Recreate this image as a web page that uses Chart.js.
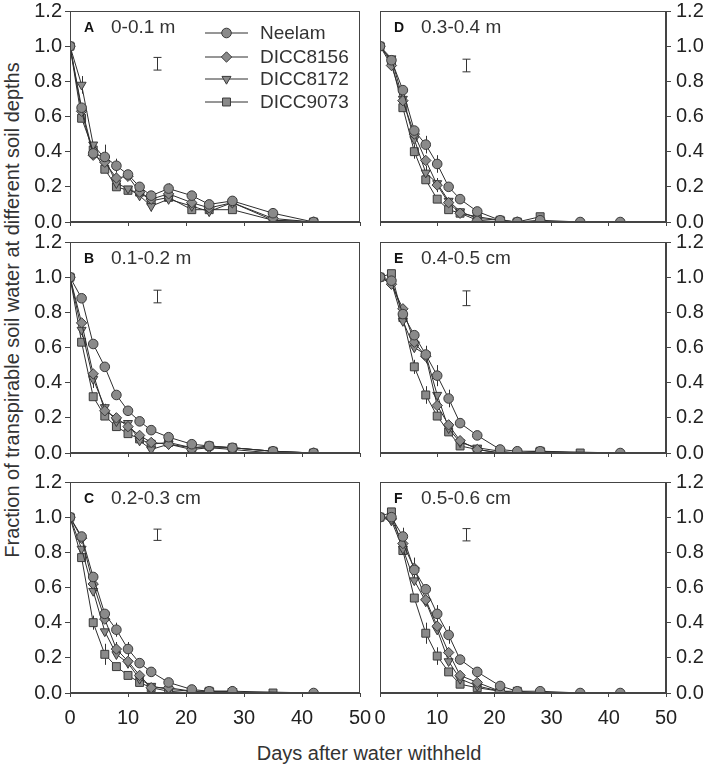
<!DOCTYPE html>
<html>
<head>
<meta charset="utf-8">
<script src="https://cdn.jsdelivr.net/npm/chart.js@4.4.0/dist/chart.umd.min.js"></script>
<style>
  body { margin: 0; background: #fff; width: 714px; height: 765px; position: relative; overflow: hidden;
         font-family: Arial, "Liberation Sans", sans-serif; }
  #yTitle { position: absolute; left: -288px; top: 298px; width: 600px; height: 24px; line-height: 24px;
            text-align: center; font-size: 20px; color: #333; transform: rotate(-90deg); white-space: nowrap; }
  #xTitle { position: absolute; left: 169px; top: 741px; width: 400px; height: 24px; line-height: 24px;
            text-align: center; font-size: 20px; color: #333; white-space: nowrap; }
</style>
</head>
<body>
<div id="yTitle">Fraction of transpirable soil water at different soil depths</div>
<div id="xTitle">Days after water withheld</div>
<script>
// days after water withheld (x values shared by every series)
const days = [0, 2, 4, 6, 8, 10, 12, 14, 17, 21, 24, 28, 35, 42];
const seriesNames = ["Neelam", "DICC8156", "DICC8172", "DICC9073"];
const panelLetters = ["A", "B", "C", "D", "E", "F"];
const depthLabels = ["0-0.1 m", "0.1-0.2 m", "0.2-0.3 cm", "0.3-0.4 m", "0.4-0.5 cm", "0.5-0.6 cm"];

// A: 0-0.1 m
const neelamA   = [1.0, 0.65, 0.39, 0.37, 0.32, 0.27, 0.20, 0.15, 0.19, 0.15, 0.10, 0.12, 0.05, 0.0];
const dicc8156A = [1.0, 0.63, 0.38, 0.34, 0.25, 0.26, 0.17, 0.13, 0.16, 0.11, 0.08, 0.11, 0.02, 0.0];
const dicc8172A = [1.0, 0.78, 0.44, 0.36, 0.22, 0.19, 0.15, 0.09, 0.13, 0.09, 0.06, 0.11, 0.01, 0.0];
const dicc9073A = [1.0, 0.59, 0.41, 0.30, 0.20, 0.18, 0.17, 0.12, 0.14, 0.07, 0.07, 0.07, 0.01, 0.0];
// B: 0.1-0.2 m
const neelamB   = [1.0, 0.88, 0.62, 0.49, 0.33, 0.24, 0.18, 0.13, 0.09, 0.05, 0.04, 0.03, 0.01, 0.0];
const dicc8156B = [1.0, 0.74, 0.45, 0.24, 0.20, 0.15, 0.10, 0.06, 0.05, 0.02, 0.03, 0.02, 0.0, 0.0];
const dicc8172B = [1.0, 0.70, 0.42, 0.26, 0.18, 0.17, 0.07, 0.02, 0.05, 0.03, 0.03, 0.03, 0.01, 0.0];
const dicc9073B = [1.0, 0.63, 0.32, 0.21, 0.15, 0.11, 0.08, 0.05, 0.06, 0.03, 0.04, 0.03, 0.01, 0.0];
// C: 0.2-0.3 cm
const neelamC   = [1.0, 0.89, 0.66, 0.45, 0.36, 0.25, 0.17, 0.12, 0.06, 0.02, 0.01, 0.01, null, 0.0];
const dicc8156C = [1.0, 0.88, 0.62, 0.42, 0.25, 0.18, 0.10, 0.03, 0.03, 0.01, 0.0, 0.01, null, null];
const dicc8172C = [1.0, 0.82, 0.58, 0.35, 0.22, 0.17, 0.08, 0.04, 0.02, 0.01, 0.01, 0.01, null, null];
const dicc9073C = [1.0, 0.77, 0.40, 0.22, 0.15, 0.10, 0.06, 0.03, 0.01, 0.0, 0.01, 0.0, 0.0, null];
// D: 0.3-0.4 m
const neelamD   = [1.0, 0.92, 0.75, 0.52, 0.44, 0.33, 0.20, 0.13, 0.06, 0.01, 0.0, 0.01, 0.0, 0.0];
const dicc8156D = [1.0, 0.89, 0.69, 0.50, 0.35, 0.21, 0.11, 0.05, 0.01, 0.0, 0.0, 0.0, null, null];
const dicc8172D = [1.0, 0.93, 0.70, 0.47, 0.28, 0.22, 0.12, 0.06, 0.02, 0.01, 0.0, 0.0, null, null];
const dicc9073D = [1.0, 0.91, 0.65, 0.40, 0.24, 0.13, 0.07, 0.05, 0.03, 0.01, 0.0, 0.03, null, null];
// E: 0.4-0.5 cm
const neelamE   = [1.0, 0.98, 0.79, 0.67, 0.56, 0.44, 0.31, 0.17, 0.10, 0.02, 0.01, 0.01, null, 0.0];
const dicc8156E = [1.0, 0.96, 0.82, 0.63, 0.55, 0.27, 0.16, 0.07, 0.02, 0.0, 0.0, 0.0, null, null];
const dicc8172E = [1.0, 0.97, 0.75, 0.60, 0.56, 0.33, 0.14, 0.06, 0.03, 0.01, 0.0, 0.01, null, null];
const dicc9073E = [1.0, 1.02, 0.77, 0.49, 0.33, 0.21, 0.12, 0.04, 0.02, 0.0, 0.0, 0.01, 0.0, null];
// F: 0.5-0.6 cm
const neelamF   = [1.0, 1.0, 0.89, 0.70, 0.59, 0.45, 0.33, 0.19, 0.12, 0.04, 0.01, 0.01, 0.0, 0.0];
const dicc8156F = [1.0, 0.99, 0.85, 0.71, 0.53, 0.38, 0.23, 0.10, 0.06, 0.01, 0.0, 0.0, null, null];
const dicc8172F = [1.0, 0.98, 0.82, 0.64, 0.52, 0.36, 0.18, 0.08, 0.04, 0.01, 0.0, 0.0, null, null];
const dicc9073F = [1.0, 1.03, 0.81, 0.54, 0.34, 0.21, 0.12, 0.05, 0.03, 0.01, 0.01, 0.0, null, null];

// visible error bars per panel: [series index, day index, half length]
const errA = [[2, 1, 0.05], [2, 3, 0.08], [0, 4, 0.04], [0, 8, 0.03], [2, 7, 0.03]];
const errB = [[2, 2, 0.05], [1, 3, 0.04], [2, 1, 0.04]];
const errC = [[3, 2, 0.04], [3, 3, 0.06], [0, 4, 0.04], [0, 5, 0.04], [1, 4, 0.04]];
const errD = [[0, 4, 0.05], [0, 5, 0.05], [3, 3, 0.04], [2, 4, 0.04], [1, 5, 0.04]];
const errE = [[2, 4, 0.05], [0, 5, 0.06], [0, 6, 0.05], [3, 3, 0.04], [3, 4, 0.05], [1, 5, 0.05]];
const errF = [[3, 4, 0.06], [3, 5, 0.05], [0, 2, 0.05], [1, 3, 0.06], [0, 6, 0.05], [0, 5, 0.05]];

// LSD bar in each panel (drawn at day 15)
const lsdDay = 15;
const lsdCenter = [0.9, 0.89, 0.9, 0.89, 0.88, 0.9];
const lsdHalf = [0.036, 0.036, 0.032, 0.036, 0.042, 0.035];

const panelSeries = [
  [neelamA, dicc8156A, dicc8172A, dicc9073A],
  [neelamB, dicc8156B, dicc8172B, dicc9073B],
  [neelamC, dicc8156C, dicc8172C, dicc9073C],
  [neelamD, dicc8156D, dicc8172D, dicc9073D],
  [neelamE, dicc8156E, dicc8172E, dicc9073E],
  [neelamF, dicc8156F, dicc8172F, dicc9073F]
];
const panelErrors = [errA, errB, errC, errD, errE, errF];

const markers = [
  { pointStyle: "circle", radius: 4.8, rotation: 0 },
  { pointStyle: "rectRot", radius: 5.2, rotation: 0 },
  { pointStyle: "triangle", radius: 5.2, rotation: 180 },
  { pointStyle: "rect", radius: 5.6, rotation: 0 }
];
const markerFill = "#8a8a8a";
const markerEdge = "#3a3a3a";
const lineColor = "#2e2e2e";
const axisColor = "#444";
const textColor = "#222";
const tickFont = { family: "Arial, 'Liberation Sans', sans-serif", size: 20 };

const areaTops = [11, 242, 482];
const areaHeight = 211;

/**
 * error bars, drawn under the markers
 */
function errorPlugin(idx) {
  return {
    id: "err" + idx,
    beforeDatasetsDraw(chart) {
      const ctx = chart.ctx;
      const xs = chart.scales.x;
      const ys = chart.scales.y;
      ctx.save();
      ctx.strokeStyle = "#333";
      ctx.lineWidth = 1;
      ctx.beginPath();
      panelErrors[idx].forEach(([s, k, h]) => {
        const v = panelSeries[idx][s][k];
        const x = Math.round(xs.getPixelForValue(days[k])) + 0.5;
        ctx.moveTo(x, ys.getPixelForValue(v + h));
        ctx.lineTo(x, ys.getPixelForValue(Math.max(0, v - h)));
      });
      ctx.stroke();
      ctx.restore();
    }
  };
}

/**
 * frame, panel label, LSD bar and (panel A only) the legend
 */
function decorPlugin(idx, showLegend) {
  return {
    id: "decor" + idx,
    afterDraw(chart) {
      const ctx = chart.ctx;
      const a = chart.chartArea;
      const xs = chart.scales.x;
      const ys = chart.scales.y;
      ctx.save();
      // box
      ctx.strokeStyle = axisColor;
      ctx.lineWidth = 1;
      ctx.strokeRect(Math.round(a.left) + 0.5, Math.round(a.top) + 0.5,
        Math.round(a.right - a.left) - 1, Math.round(a.bottom - a.top) - 1);

      // LSD bar
      const lx = Math.round(xs.getPixelForValue(lsdDay)) + 0.5;
      const y1 = ys.getPixelForValue(lsdCenter[idx] + lsdHalf[idx]);
      const y2 = ys.getPixelForValue(lsdCenter[idx] - lsdHalf[idx]);
      ctx.strokeStyle = "#333";
      ctx.beginPath();
      ctx.moveTo(lx, y1); ctx.lineTo(lx, y2);
      ctx.moveTo(lx - 4, y1); ctx.lineTo(lx + 4, y1);
      ctx.moveTo(lx - 4, y2); ctx.lineTo(lx + 4, y2);
      ctx.stroke();

      // panel labels
      ctx.textBaseline = "middle";
      ctx.textAlign = "left";
      ctx.fillStyle = "#111";
      ctx.font = "bold 14px Arial, 'Liberation Sans', sans-serif";
      ctx.fillText(panelLetters[idx], a.left + 14, a.top + 17);
      ctx.fillStyle = "#333";
      ctx.font = "19px Arial, 'Liberation Sans', sans-serif";
      ctx.fillText(depthLabels[idx], a.left + 41, a.top + 17);

      if (showLegend) {
        ctx.font = "19px Arial, 'Liberation Sans', sans-serif";
        const rowY = [22, 46, 68, 91];
        for (let i = 0; i < seriesNames.length; i++) {
          const y = a.top + rowY[i];
          ctx.strokeStyle = lineColor;
          ctx.beginPath();
          ctx.moveTo(a.left + 135, y); ctx.lineTo(a.left + 178, y);
          ctx.stroke();
          ctx.fillStyle = markerFill;
          ctx.strokeStyle = markerEdge;
          if (Chart.helpers && Chart.helpers.drawPoint) {
            Chart.helpers.drawPoint(ctx, {
              pointStyle: markers[i].pointStyle, radius: markers[i].radius,
              rotation: markers[i].rotation, borderWidth: 1
            }, a.left + 156.5, y);
          }
          ctx.fillStyle = "#333";
          ctx.fillText(seriesNames[i], a.left + 190, y + 1);
        }
      }
      ctx.restore();
    }
  };
}

function makePanel(idx) {
  const col = idx < 3 ? 0 : 1;
  const row = idx % 3;
  const bottomRow = row === 2;
  const xh = bottomRow ? 44 : 8;
  const left = col === 0 ? 20 : 366;
  const width = col === 0 ? 354 : 348;
  const top = areaTops[row] - 10;
  const height = 10 + areaHeight + xh;

  const canvas = document.createElement("canvas");
  canvas.width = width;
  canvas.height = height;
  canvas.style.cssText = "position:absolute;left:" + left + "px;top:" + top + "px;width:" +
    width + "px;height:" + height + "px";
  document.body.appendChild(canvas);

  const datasets = panelSeries[idx].map((vals, i) => ({
    label: seriesNames[i],
    data: days.map((d, k) => ({ x: d, y: vals[k] })),
    borderColor: lineColor,
    borderWidth: 1,
    backgroundColor: markerFill,
    pointStyle: markers[i].pointStyle,
    pointRadius: markers[i].radius,
    pointRotation: markers[i].rotation,
    pointBackgroundColor: markerFill,
    pointBorderColor: markerEdge,
    pointBorderWidth: 1,
    spanGaps: true,
    tension: 0
  }));

  new Chart(canvas.getContext("2d"), {
    type: "line",
    data: { datasets },
    options: {
      responsive: false,
      animation: false,
      events: [],
      layout: { padding: { left: col === 1 ? 14 : 0, right: col === 0 ? 14 : 0, top: 10, bottom: 0 } },
      plugins: { legend: { display: false }, tooltip: { enabled: false } },
      scales: {
        x: {
          type: "linear",
          min: 0,
          max: 50,
          ticks: { stepSize: 10, display: bottomRow, font: tickFont, color: textColor, padding: 9, maxRotation: 0 },
          grid: { drawOnChartArea: false, drawTicks: true, tickLength: 4, color: axisColor },
          border: { color: axisColor, width: 1 },
          afterFit: (s) => { s.height = xh; s.paddingLeft = 0; s.paddingRight = 0; }
        },
        y: {
          position: col === 0 ? "left" : "right",
          min: 0,
          max: 1.2,
          ticks: {
            stepSize: 0.2,
            font: tickFont,
            color: textColor,
            padding: col === 0 ? 3 : 5,
            callback: (v) => Number(v).toFixed(1)
          },
          grid: { drawOnChartArea: false, drawTicks: true, tickLength: 5, color: axisColor },
          border: { color: axisColor, width: 1 },
          afterFit: (s) => { s.width = col === 0 ? 50 : 48; s.paddingTop = 0; s.paddingBottom = 0; }
        }
      }
    },
    plugins: [errorPlugin(idx), decorPlugin(idx, idx === 0)]
  });
}

for (let i = 0; i < 6; i++) makePanel(i);
</script>
</body>
</html>
